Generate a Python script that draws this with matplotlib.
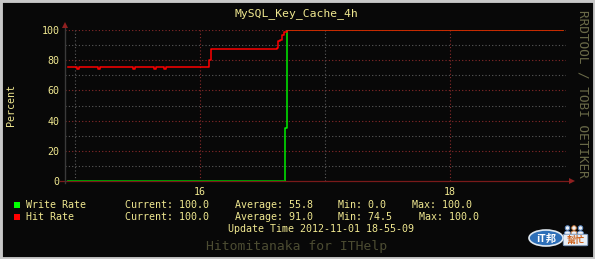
import matplotlib
matplotlib.use("Agg")
import matplotlib.pyplot as plt
from matplotlib.patches import Ellipse, Rectangle, FancyBboxPatch

# time in hours of the day, values in percent
hit_time = [14.944, 15.016, 15.032, 15.184, 15.200, 15.464, 15.480,
            15.632, 15.648, 15.712, 15.728, 16.072, 16.084, 16.096,
            16.616, 16.624, 16.636, 16.656, 16.672, 16.684, 16.698, 18.904]
hit_rate = [75.2, 74.5, 75.2, 74.5, 75.2, 74.5, 75.2,
            74.5, 75.2, 74.5, 75.2, 80.0, 87.4, 87.4,
            88.3, 92.4, 93.7, 96.4, 98.4, 98.4, 100.0, 100.0]

write_time = [14.944, 16.672, 16.678, 16.690, 16.698, 18.904]
write_rate = [0.0, 0.0, 35.0, 35.0, 100.0, 100.0]

legend_rows = [
    ("Write Rate", "#00ff00", ["Current: 100.0", "Average: 55.8", "Min: 0.0", "Max: 100.0"]),
    ("Hit Rate", "#ff0000", ["Current: 100.0", "Average: 91.0", "Min: 74.5", "Max: 100.0"]),
]

W, H = 595, 259
BG = "#080808"
TXT = "#f0e890"
MONO = "DejaVu Sans Mono"
CJK = ["Noto Sans CJK TC", "DejaVu Sans"]

fig = plt.figure(figsize=(W / 100, H / 100), dpi=100, facecolor=BG)


def fx(px):
    return px / W


def fy(py):
    return 1 - py / H


ax = fig.add_axes([fx(65), fy(181), fx(566) - fx(65), fy(30) - fy(181)])
ax.set_facecolor(BG)
ax.set_xlim(14.92, 18.928)
ax.set_ylim(0, 100)
for s in ax.spines.values():
    s.set_visible(False)

# grid: minor gray, major red
for v in range(10, 100, 20):
    ax.axhline(v, color="#5a5a5a", lw=0.8, ls=(0, (1, 2)), zorder=1)
for v in range(20, 101, 20):
    ax.axhline(v, color="#8a2a2a", lw=0.8, ls=(0, (1, 2)), zorder=1)
for h in [15, 17]:
    ax.axvline(h, color="#5a5a5a", lw=0.8, ls=(0, (1, 2)), zorder=1)
for h in [16, 18]:
    ax.axvline(h, color="#8a2a2a", lw=0.8, ls=(0, (1, 2)), zorder=1)

ax.set_yticks(range(0, 101, 20))
ax.set_xticks([16, 18])
ax.set_xticklabels(["16", "18"])
ax.tick_params(length=0, colors=TXT, labelsize=7.2, pad=4)
for lab in ax.get_xticklabels() + ax.get_yticklabels():
    lab.set_fontfamily(MONO)
    lab.set_color(TXT)

ax.plot(write_time, write_rate, color="#00ee00", lw=1.1, drawstyle="steps-post", zorder=3)
ax.plot(write_time[:2], write_rate[:2], color="#009000", lw=1.3, zorder=3)
ax.plot(hit_time, hit_rate, color="#ff0000", lw=1.1, drawstyle="steps-post", zorder=4)

# axis lines with arrow heads
ax.plot([-0.01, 1.01], [0, 0], transform=ax.transAxes, color="#7a1a1a",
        lw=0.9, clip_on=False, zorder=2)
ax.plot([1.012], [0], transform=ax.transAxes, marker=">", color="#902020",
        ms=4.5, mew=0, clip_on=False, zorder=2)
ax.plot([0, 0], [-0.01, 1.02], transform=ax.transAxes, color="#3a3a3a",
        lw=1.0, clip_on=False, zorder=2)
ax.plot([0], [1.035], transform=ax.transAxes, marker="^", color="#902020",
        ms=4.5, mew=0, clip_on=False, zorder=2)

fig.text(fx(296.5), fy(14), "MySQL_Key_Cache_4h", color=TXT, family=MONO,
         fontsize=8.2, ha="center", va="center")
fig.text(fx(11), fy(105), "Percent", color=TXT, family=MONO, fontsize=7.2,
         rotation=90, ha="center", va="center")
fig.text(fx(583), fy(94), "RRDTOOL / TOBI OETIKER", color="#6a6a48", family=MONO,
         fontsize=9.2, rotation=270, ha="center", va="center")

stat_x = [[125, 235, 338, 412.5], [125, 235, 338, 419]]
for i, (name, col, stats) in enumerate(legend_rows):
    y = 205 + i * 11.5
    fig.patches.append(Rectangle((fx(14), fy(y + 3)), fx(6), 6 / H,
                                 transform=fig.transFigure, facecolor=col,
                                 edgecolor="none"))
    fig.text(fx(26), fy(y), name, color=TXT, family=MONO, fontsize=7.2, va="center")
    for x, s in zip(stat_x[i], stats):
        fig.text(fx(x), fy(y), s, color=TXT, family=MONO, fontsize=7.2, va="center")

fig.text(fx(321.5), fy(229.5), "Update Time 2012-11-01 18-55-09", color=TXT,
         family=MONO, fontsize=7.2, ha="center", va="center")
fig.text(fx(296.5), fy(246.5), "Hitomitanaka for ITHelp", color="#4c4c32",
         family=MONO, fontsize=9.4, ha="center", va="center")

# logo
for px, ec in [(567.5, "#5a86c0"), (574, "#d08040"), (580.5, "#5a86c0")]:
    fig.patches.append(Ellipse((fx(px), fy(233)), fx(6), 4 / H, transform=fig.transFigure,
                               facecolor="#eef2f8", edgecolor=ec, lw=0.6))
    fig.patches.append(Ellipse((fx(px), fy(228)), fx(4.5), 4.5 / H, transform=fig.transFigure,
                               facecolor="#eef2f8", edgecolor=ec, lw=0.7))
fig.patches.append(FancyBboxPatch((fx(565), fy(245)), fx(21), 10 / H,
                                  boxstyle="round,pad=0.003", transform=fig.transFigure,
                                  facecolor="#e8eef5", edgecolor="#7090b8", lw=0.6))
fig.patches.append(Ellipse((fx(546), fy(238)), fx(34), 16 / H, transform=fig.transFigure,
                           facecolor="#2d6fb8", edgecolor="#dfe8f0", lw=1.2))
fig.text(fx(546), fy(238.5), "iT邦", color="white", fontsize=7.5, weight="bold",
         style="italic", family=CJK, ha="center", va="center")
fig.text(fx(575.5), fy(240), "幫忙", color="#d0641e", fontsize=6.5, weight="bold",
         family=CJK, ha="center", va="center")

# outer light gray frame
fig.patches.append(Rectangle((0, 0), 1, 1, transform=fig.transFigure, facecolor="none",
                             edgecolor="#c8c8c8", lw=3.5))

fig.savefig("out.png", dpi=100, facecolor=BG)
